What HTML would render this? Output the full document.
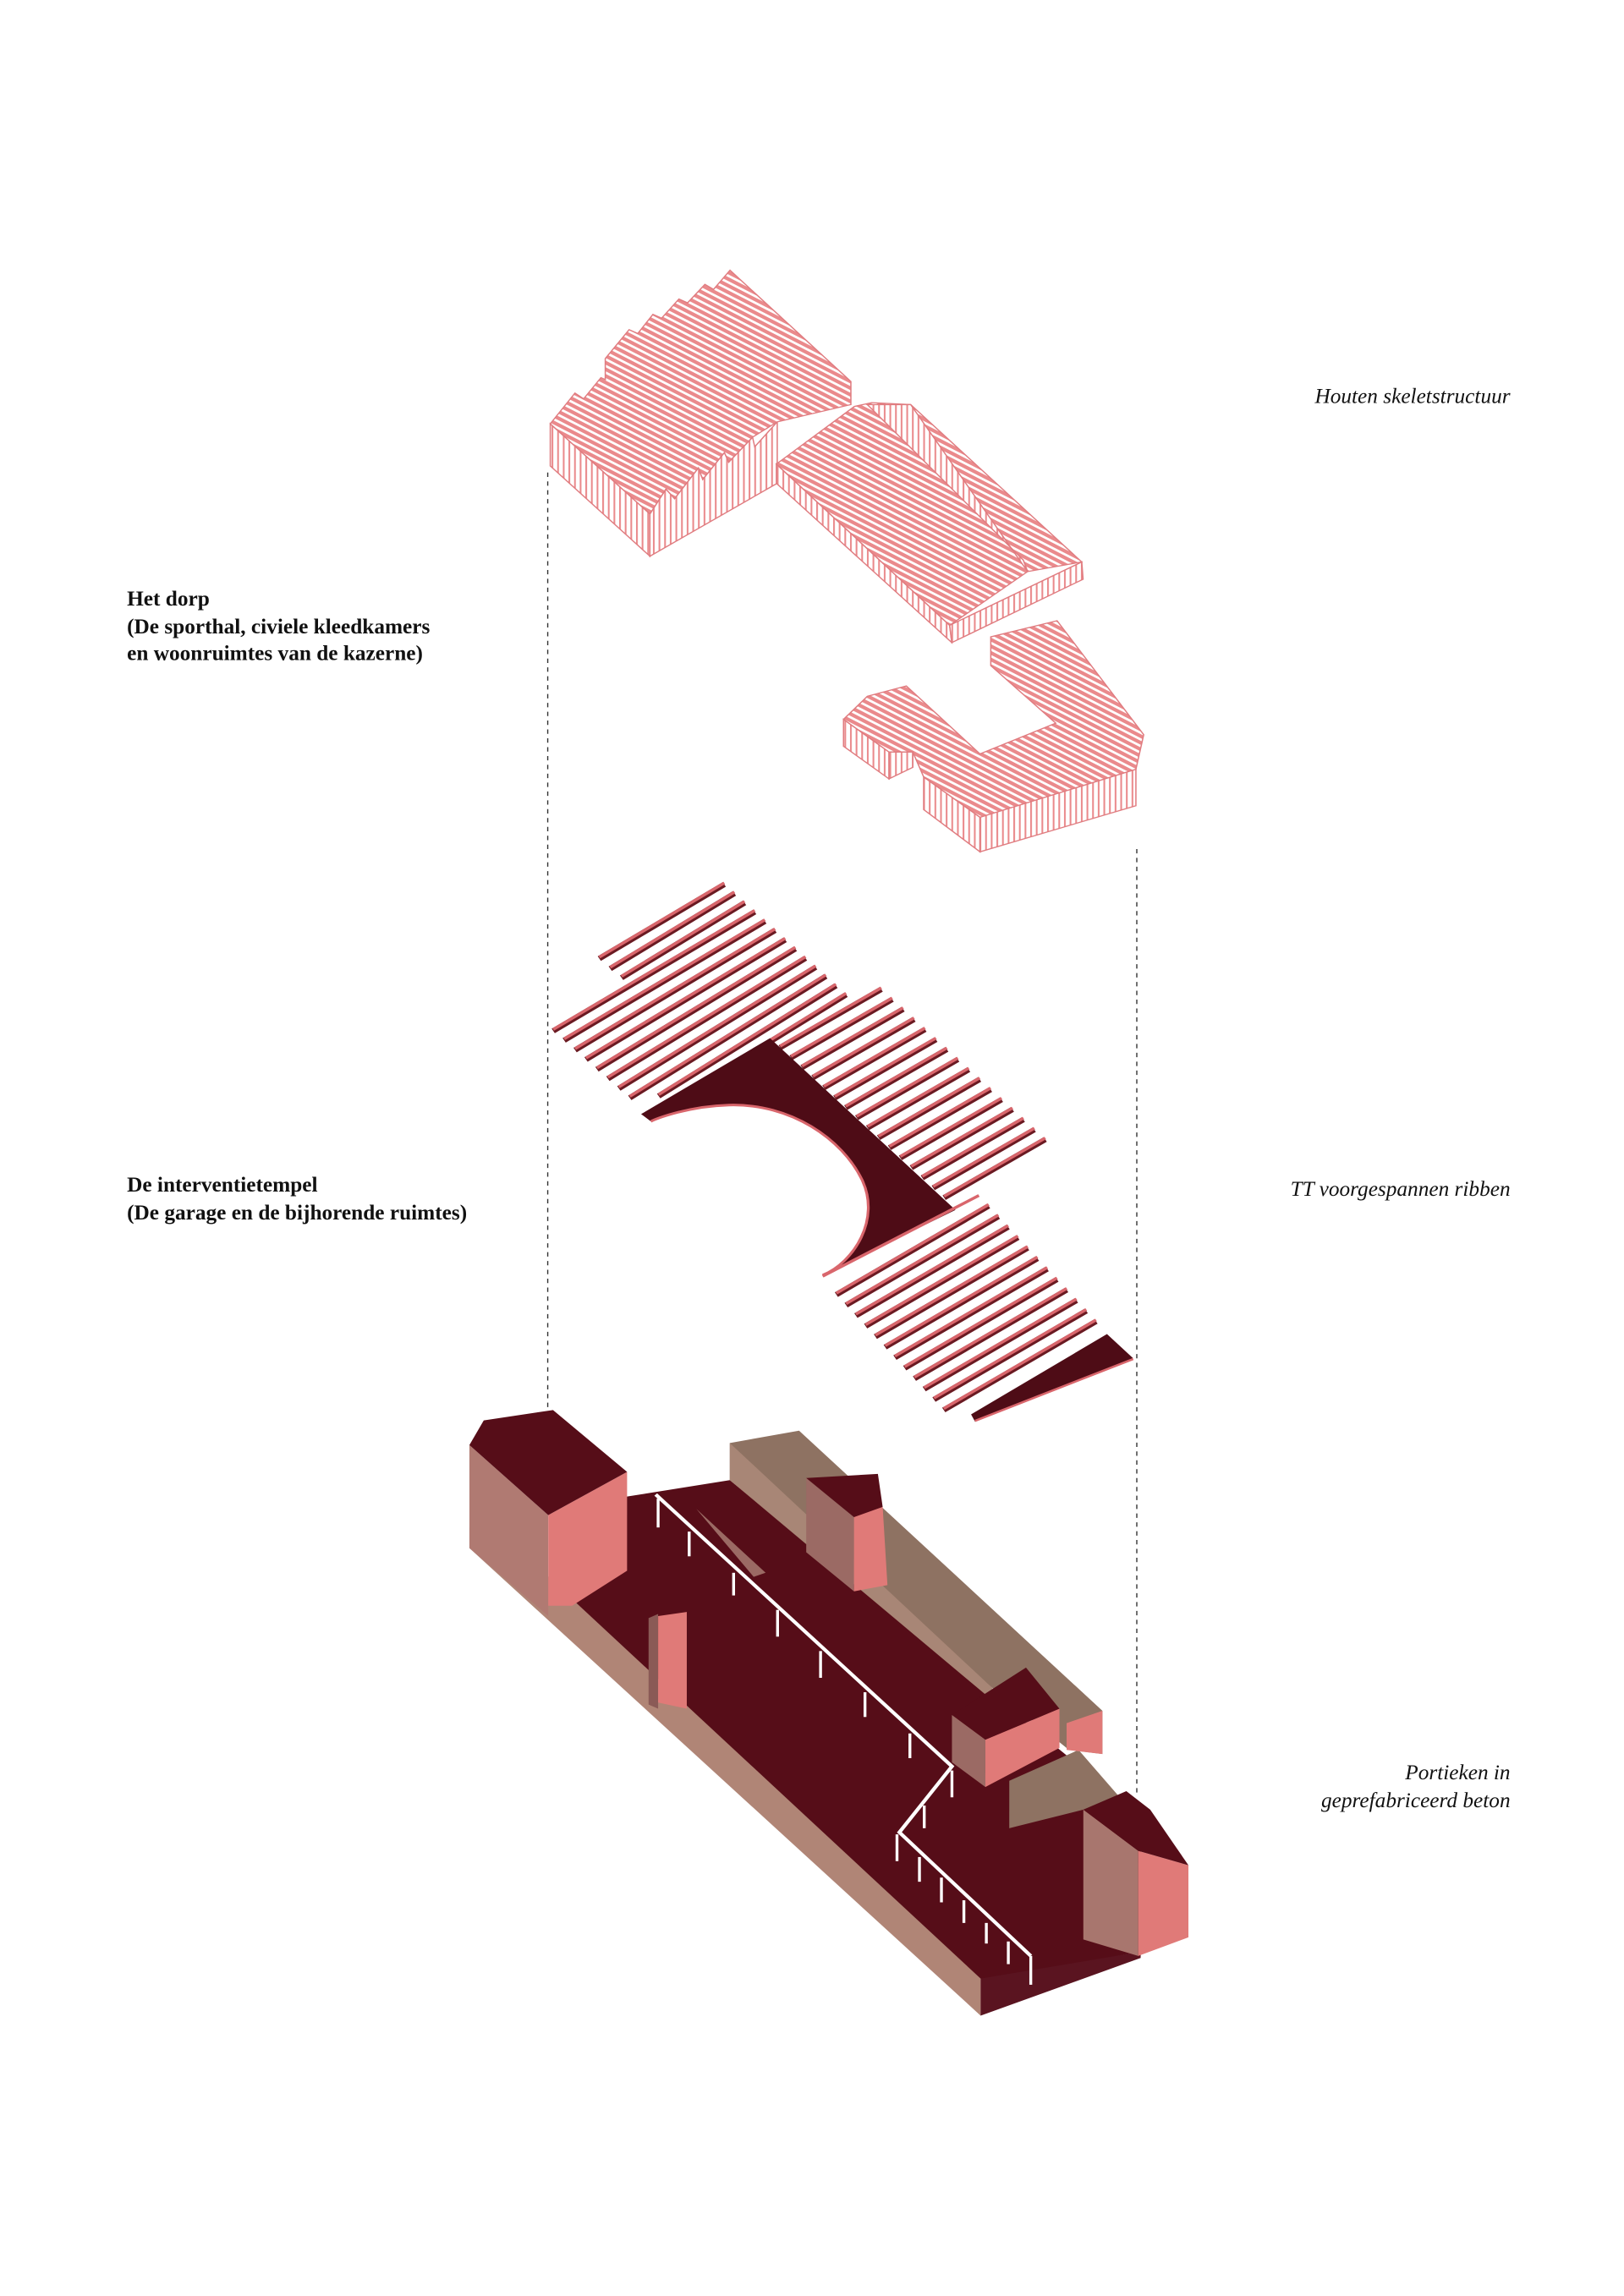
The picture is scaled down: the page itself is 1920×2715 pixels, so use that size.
<!DOCTYPE html>
<html><head><meta charset="utf-8"><style>
html,body{margin:0;padding:0;background:#fff;}
svg{display:block;}
text{font-family:"Liberation Serif",serif;font-size:14.5px;fill:#111;}
.b{font-weight:bold;}
.i{font-style:italic;}
</style></head><body>
<svg width="1920" height="2715" viewBox="0 0 1100 1555" preserveAspectRatio="none" xmlns="http://www.w3.org/2000/svg">
<defs>
<pattern id="h" width="14" height="15" patternUnits="userSpaceOnUse" patternTransform="rotate(30)"><rect width="14" height="15" fill="#fff"/><rect width="14" height="9" fill="#ea8a8c"/></pattern>
<pattern id="v" width="13" height="15" patternUnits="userSpaceOnUse"><rect width="13" height="15" fill="#fff"/><rect width="4" height="15" fill="#ea8a8c"/></pattern>
</defs>
<g transform="translate(346.9,171.3) scale(0.2934,0.26)" stroke="#e07c80" stroke-width="3">
<polygon points="88,445 318,680 318,790 88,555" fill="url(#v)"/>
<polygon points="318,680 355,615 375,640 430,560 440,590 490,520 500,545 555,480 560,505 612,440 612,600 318,790" fill="url(#v)"/>
<polygon points="88,445 145,365 165,380 205,325 215,330 215,275 270,200 290,210 325,160 345,170 385,120 405,130 445,82 465,95 503,45 782,335 782,395 612,440 555,480 500,545 490,520 440,590 430,560 375,640 355,615 318,680" fill="url(#h)"/>
<polygon points="610,550 1010,970 1015,1015 610,600" fill="url(#v)"/>
<polygon points="1010,970 1315,805 1318,850 1015,1015" fill="url(#v)"/>
<polygon points="610,550 790,400 830,390 920,395 1315,805 1190,830 1010,970" fill="url(#h)"/>
<polygon points="820,395 920,395 1190,830 1180,800" fill="url(#v)"/>
<polygon points="765,1215 870,1300 870,1370 765,1285" fill="url(#v)"/>
<polygon points="870,1300 925,1300 925,1340 870,1370" fill="url(#v)"/>
<polygon points="950,1365 1080,1470 1080,1560 950,1450" fill="url(#v)"/>
<polygon points="1080,1470 1440,1345 1440,1440 1080,1560" fill="url(#v)"/>
<polygon points="765,1215 820,1155 910,1128 1080,1305 1255,1225 1105,1075 1105,1000 1258,958 1458,1255 1440,1345 1080,1470 950,1365 925,1300 870,1300" fill="url(#h)"/>
</g>
<g stroke="#333" stroke-width="0.8" stroke-dasharray="3,3">
<line x1="371" y1="320" x2="371" y2="955"/>
<line x1="770" y1="575" x2="770" y2="1215"/>
</g>
<g transform="translate(366.8,590.4) scale(0.2645,0.245)" stroke-linecap="butt">
<g stroke="#6a1a22" stroke-width="15">
<line x1="148" y1="240" x2="468" y2="35"/><line x1="176" y1="268" x2="494" y2="60"/><line x1="205" y1="293" x2="520" y2="86"/>
<line x1="30" y1="440" x2="546" y2="111"/><line x1="58" y1="466" x2="572" y2="137"/><line x1="86" y1="493" x2="598" y2="162"/>
<line x1="114" y1="519" x2="624" y2="188"/><line x1="142" y1="546" x2="650" y2="213"/><line x1="170" y1="572" x2="676" y2="239"/>
<line x1="198" y1="599" x2="702" y2="264"/><line x1="226" y1="625" x2="728" y2="289"/><line x1="300" y1="620" x2="754" y2="315"/><line x1="330" y1="640" x2="780" y2="340"/>
<line x1="611" y1="486" x2="870" y2="325"/><line x1="639" y1="514" x2="898" y2="353"/><line x1="667" y1="541" x2="926" y2="380"/>
<line x1="695" y1="569" x2="954" y2="408"/><line x1="723" y1="597" x2="982" y2="436"/><line x1="751" y1="625" x2="1010" y2="464"/>
<line x1="779" y1="652" x2="1038" y2="491"/><line x1="807" y1="680" x2="1066" y2="519"/><line x1="835" y1="708" x2="1094" y2="547"/>
<line x1="863" y1="735" x2="1122" y2="574"/><line x1="891" y1="763" x2="1150" y2="602"/><line x1="919" y1="791" x2="1178" y2="630"/>
<line x1="947" y1="818" x2="1206" y2="657"/><line x1="975" y1="846" x2="1234" y2="685"/><line x1="1003" y1="874" x2="1262" y2="713"/>
<line x1="1031" y1="901" x2="1290" y2="740"/>
<line x1="755" y1="1169" x2="1145" y2="924"/><line x1="780" y1="1198" x2="1170" y2="953"/><line x1="805" y1="1227" x2="1195" y2="982"/>
<line x1="830" y1="1256" x2="1220" y2="1011"/><line x1="855" y1="1285" x2="1245" y2="1040"/><line x1="880" y1="1314" x2="1270" y2="1069"/>
<line x1="905" y1="1343" x2="1295" y2="1098"/><line x1="930" y1="1372" x2="1320" y2="1127"/><line x1="955" y1="1401" x2="1345" y2="1156"/>
<line x1="980" y1="1430" x2="1370" y2="1185"/><line x1="1005" y1="1459" x2="1395" y2="1214"/><line x1="1030" y1="1488" x2="1420" y2="1243"/>
</g>
<g stroke="#d9666c" stroke-width="8" transform="translate(0,-4)">
<line x1="148" y1="240" x2="468" y2="35"/><line x1="176" y1="268" x2="494" y2="60"/><line x1="205" y1="293" x2="520" y2="86"/>
<line x1="30" y1="440" x2="546" y2="111"/><line x1="58" y1="466" x2="572" y2="137"/><line x1="86" y1="493" x2="598" y2="162"/>
<line x1="114" y1="519" x2="624" y2="188"/><line x1="142" y1="546" x2="650" y2="213"/><line x1="170" y1="572" x2="676" y2="239"/>
<line x1="198" y1="599" x2="702" y2="264"/><line x1="226" y1="625" x2="728" y2="289"/><line x1="300" y1="620" x2="754" y2="315"/><line x1="330" y1="640" x2="780" y2="340"/>
<line x1="611" y1="486" x2="870" y2="325"/><line x1="639" y1="514" x2="898" y2="353"/><line x1="667" y1="541" x2="926" y2="380"/>
<line x1="695" y1="569" x2="954" y2="408"/><line x1="723" y1="597" x2="982" y2="436"/><line x1="751" y1="625" x2="1010" y2="464"/>
<line x1="779" y1="652" x2="1038" y2="491"/><line x1="807" y1="680" x2="1066" y2="519"/><line x1="835" y1="708" x2="1094" y2="547"/>
<line x1="863" y1="735" x2="1122" y2="574"/><line x1="891" y1="763" x2="1150" y2="602"/><line x1="919" y1="791" x2="1178" y2="630"/>
<line x1="947" y1="818" x2="1206" y2="657"/><line x1="975" y1="846" x2="1234" y2="685"/><line x1="1003" y1="874" x2="1262" y2="713"/>
<line x1="1031" y1="901" x2="1290" y2="740"/>
<line x1="755" y1="1169" x2="1145" y2="924"/><line x1="780" y1="1198" x2="1170" y2="953"/><line x1="805" y1="1227" x2="1195" y2="982"/>
<line x1="830" y1="1256" x2="1220" y2="1011"/><line x1="855" y1="1285" x2="1245" y2="1040"/><line x1="880" y1="1314" x2="1270" y2="1069"/>
<line x1="905" y1="1343" x2="1295" y2="1098"/><line x1="930" y1="1372" x2="1320" y2="1127"/><line x1="955" y1="1401" x2="1345" y2="1156"/>
<line x1="980" y1="1430" x2="1370" y2="1185"/><line x1="1005" y1="1459" x2="1395" y2="1214"/><line x1="1030" y1="1488" x2="1420" y2="1243"/>
</g>
<path d="M255,670 L585,460 L1060,935 L720,1115 C800,1080 870,960 820,850 C770,740 640,640 480,645 C380,648 300,680 280,690 Z" fill="#4e0c16"/>
<path d="M280,690 C300,680 380,648 480,645 C640,640 770,740 820,850 C870,960 800,1080 720,1115" fill="none" stroke="#d9666c" stroke-width="7"/>
<line x1="720" y1="1118" x2="1120" y2="895" stroke="#d9666c" stroke-width="8"/>
<polygon points="1100,1500 1448,1278 1515,1345 1110,1520" fill="#4e0c16"/>
<line x1="1110" y1="1518" x2="1515" y2="1347" stroke="#d9666c" stroke-width="6"/>
</g>
<g transform="translate(313.1,950.8) scale(0.3236,0.279)">
<polygon points="180,420 1085,1390 1085,1485 15,350 15,300" fill="#b08576"/>
<polygon points="1085,1390 1420,1330 1420,1345 1085,1485" fill="#5a1420"/>
<polygon points="180,420 345,225 560,185 1420,1000 1420,1330 1085,1395" fill="#560d18"/>
<polygon points="560,95 705,65 1340,745 1340,850 1270,840 1110,690 560,185" fill="#8e7262"/>
<polygon points="560,95 1110,690 1110,720 560,185" fill="#a88676"/>
<polygon points="1145,915 1290,840 1380,960 1300,985 1145,1030" fill="#8e7262"/>
<polygon points="490,255 635,410 610,420" fill="#9b6a64"/>
<polygon points="15,100 180,270 180,515 15,350" fill="#b07a72"/>
<polygon points="180,270 345,165 345,405 230,490 180,490" fill="#e07a78"/>
<polygon points="15,100 45,40 190,15 345,165 180,270" fill="#560d18"/>
<polygon points="720,180 820,275 820,455 720,360" fill="#9b6a64"/>
<polygon points="820,250 880,250 890,440 820,455" fill="#e07a78"/>
<polygon points="720,180 870,170 880,250 820,275" fill="#560d18"/>
<polygon points="390,520 410,510 410,740 390,730" fill="#8a5a56"/>
<polygon points="410,515 470,505 470,740 410,725" fill="#e07a78"/>
<polygon points="1265,775 1340,745 1340,850 1265,840" fill="#e07a78"/>
<polygon points="1025,755 1095,815 1095,930 1025,870" fill="#9b6a64"/>
<polygon points="1095,815 1250,740 1250,835 1095,930" fill="#e07a78"/>
<polygon points="1025,755 1180,640 1250,740 1095,815" fill="#560d18"/>
<polygon points="1300,985 1415,1085 1415,1340 1300,1300" fill="#a8766e"/>
<polygon points="1415,1085 1520,1120 1520,1295 1415,1340" fill="#e07a78"/>
<polygon points="1300,985 1390,940 1440,985 1520,1120 1415,1085" fill="#560d18"/>
<polyline points="405,220 1025,880 915,1040 1190,1340" fill="none" stroke="#fff" stroke-width="8"/>
<g stroke="#fff" stroke-width="6">
<line x1="410" y1="230" x2="410" y2="300"/><line x1="475" y1="310" x2="475" y2="370"/><line x1="568" y1="410" x2="568" y2="465"/>
<line x1="660" y1="500" x2="660" y2="565"/><line x1="750" y1="600" x2="750" y2="665"/><line x1="843" y1="700" x2="843" y2="760"/>
<line x1="937" y1="800" x2="937" y2="860"/><line x1="1025" y1="890" x2="1025" y2="955"/><line x1="967" y1="975" x2="967" y2="1030"/>
<line x1="910" y1="1045" x2="910" y2="1110"/><line x1="957" y1="1100" x2="957" y2="1160"/><line x1="1003" y1="1150" x2="1003" y2="1210"/>
<line x1="1050" y1="1205" x2="1050" y2="1260"/><line x1="1097" y1="1260" x2="1097" y2="1310"/><line x1="1143" y1="1305" x2="1143" y2="1360"/>
<line x1="1190" y1="1340" x2="1190" y2="1410"/>
</g>
</g>
<text class="i" x="1023" y="273" text-anchor="end">Houten skeletstructuur</text>
<text class="b" x="86" y="410">Het dorp</text>
<text class="b" x="86" y="429">(De sporthal, civiele kleedkamers</text>
<text class="b" x="86" y="447">en woonruimtes van de kazerne)</text>
<text class="b" x="86" y="807">De interventietempel</text>
<text class="b" x="86" y="826">(De garage en de bijhorende ruimtes)</text>
<text class="i" x="1023" y="810" text-anchor="end">TT voorgespannen ribben</text>
<text class="i" x="1023" y="1205" text-anchor="end">Portieken in</text>
<text class="i" x="1023" y="1224" text-anchor="end">geprefabriceerd beton</text>
</svg>
</body></html>
